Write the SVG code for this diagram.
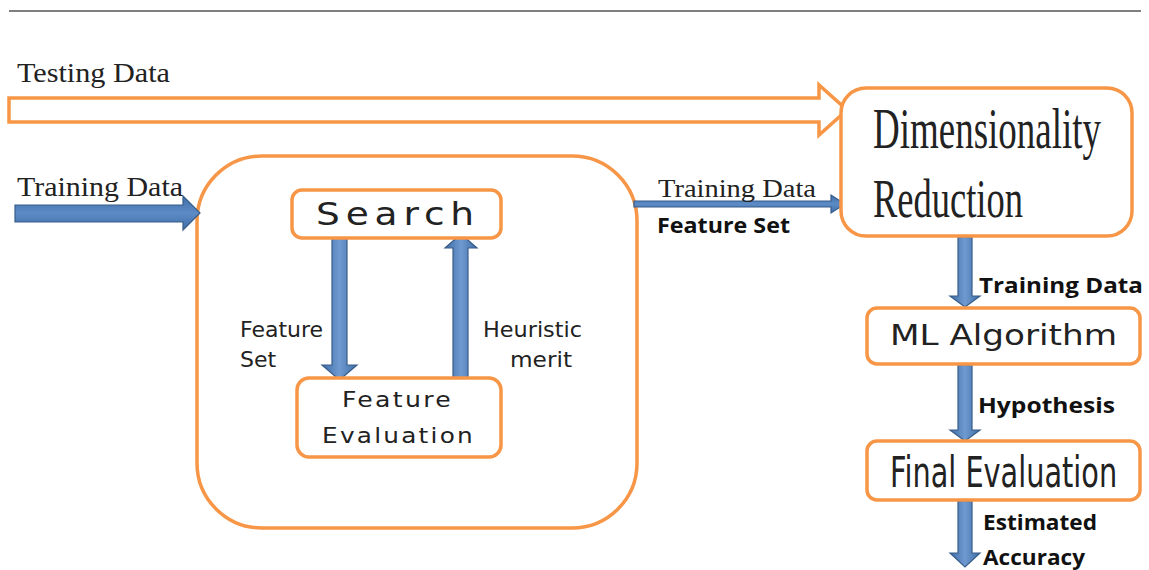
<svg xmlns="http://www.w3.org/2000/svg" width="1149" height="570" viewBox="0 0 1149 570">
  <defs>
    <!-- shaded fill for vertical and horizontal block arrows -->
    <linearGradient id="shadeV" x1="0" y1="0" x2="1" y2="0">
      <stop offset="0" stop-color="#3F6DA6"/>
      <stop offset="0.5" stop-color="#6E9AD0"/>
      <stop offset="1" stop-color="#3F6DA6"/>
    </linearGradient>
    <linearGradient id="shadeH" x1="0" y1="0" x2="0" y2="1">
      <stop offset="0" stop-color="#3F6DA6"/>
      <stop offset="0.5" stop-color="#5D8BC6"/>
      <stop offset="1" stop-color="#3F6DA6"/>
    </linearGradient>
  </defs>
  <style>
    .box { fill: #ffffff; stroke: #F79646; stroke-width: 3.5; }
    .bv { fill: url(#shadeV); stroke: #385D8A; stroke-width: 1.2; }
    .bh { fill: url(#shadeH); stroke: #385D8A; stroke-width: 1.2; }
    .serif { font-family: "Liberation Serif", "Times New Roman", serif; fill: #222; }
    .sans { font-family: "DejaVu Sans", Verdana, sans-serif; fill: #222; }
    .bold { font-family: "Open Sans", "DejaVu Sans", sans-serif; font-weight: bold; fill: #111; font-size: 21px; }
  </style>

  <!-- header rule -->
  <line x1="9" y1="11" x2="1141" y2="11" stroke="#555" stroke-width="1.5"/>

  <!-- feature selection container -->
  <g id="feature-selection">
    <rect class="box" x="197" y="156" width="440" height="372" rx="65" ry="65"/>
  </g>

  <!-- connectors -->
  <g id="connectors">
    <!-- hollow testing-data arrow -->
    <path d="M9,98 H819 V85 L847,110 L819,135 V122 H9 Z" fill="#ffffff" stroke="#F79646" stroke-width="3.5" stroke-linejoin="miter"/>
    <!-- training data into feature selection -->
    <path class="bh" d="M15,205 H183 V196 L200,213 L183,230 V222 H15 Z"/>
    <!-- search -> feature evaluation -->
    <path class="bv" d="M332,236 H347 V365 H357 L339.5,380 L322,365 H332 Z"/>
    <!-- feature evaluation -> search -->
    <path class="bv" d="M453,378 V248 H445 L461,234 L477,248 H468 V378 Z"/>
    <!-- feature selection -> dimensionality reduction -->
    <path class="bh" d="M634,201 H831 V195 L845,204 L831,213 V207 H634 Z"/>
    <!-- dimensionality reduction -> ML algorithm -->
    <path class="bv" d="M958,237 H972 V296 H980 L965,307 L950,296 H958 Z"/>
    <!-- ML algorithm -> final evaluation -->
    <path class="bv" d="M958,365 H972 V430 H980 L965,441 L950,430 H958 Z"/>
    <!-- final evaluation -> output -->
    <path class="bv" d="M958,501 H972 V553 H980 L965,567 L950,553 H958 Z"/>
  </g>

  <!-- connector labels -->
  <text class="serif" x="17" y="82" font-size="27" textLength="153" lengthAdjust="spacingAndGlyphs">Testing Data</text>
  <text class="serif" x="17" y="196" font-size="27" textLength="166" lengthAdjust="spacingAndGlyphs">Training Data</text>
  <text class="serif" x="658" y="197" font-size="25" fill="#444" textLength="158" lengthAdjust="spacingAndGlyphs">Training Data</text>
  <text class="bold" x="657" y="233" textLength="133" lengthAdjust="spacingAndGlyphs">Feature Set</text>
  <text class="sans" x="240" y="337" font-size="22">Feature</text>
  <text class="sans" x="240" y="367" font-size="22">Set</text>
  <text class="sans" x="483" y="337" font-size="22" textLength="99" lengthAdjust="spacingAndGlyphs">Heuristic</text>
  <text class="sans" x="510" y="367" font-size="22" textLength="62" lengthAdjust="spacingAndGlyphs">merit</text>
  <text class="bold" x="979" y="293" textLength="164" lengthAdjust="spacingAndGlyphs">Training Data</text>
  <text class="bold" x="978" y="413" textLength="137" lengthAdjust="spacingAndGlyphs">Hypothesis</text>
  <text class="bold" x="983" y="530" textLength="114" lengthAdjust="spacingAndGlyphs">Estimated</text>
  <text class="bold" x="983" y="565" textLength="102" lengthAdjust="spacingAndGlyphs">Accuracy</text>

  <g id="search">
    <rect class="box" x="292" y="190" width="209" height="48" rx="10" ry="10"/>
    <text class="sans" x="316" y="225" font-size="32" letter-spacing="5" textLength="164" lengthAdjust="spacingAndGlyphs">Search</text>
  </g>

  <g id="feature-evaluation">
    <rect class="box" x="297" y="378" width="204" height="79" rx="12" ry="12"/>
    <text class="sans" x="342" y="407" font-size="22" letter-spacing="2" textLength="111" lengthAdjust="spacingAndGlyphs">Feature</text>
    <text class="sans" x="322" y="443" font-size="22" letter-spacing="2" textLength="153" lengthAdjust="spacingAndGlyphs">Evaluation</text>
  </g>

  <!-- condensed titles are drawn at full size and squeezed horizontally -->
  <g id="dimensionality-reduction">
    <rect class="box" x="841" y="88" width="291" height="148" rx="25" ry="25"/>
    <text class="serif" font-size="57" transform="translate(873,148) scale(0.649,1)">Dimensionality</text>
    <text class="serif" font-size="54" transform="translate(873,217) scale(0.676,1)">Reduction</text>
  </g>

  <g id="ml-algorithm">
    <rect class="box" x="867" y="308" width="273" height="56" rx="10" ry="10"/>
    <text class="sans" x="890" y="345" font-size="28" textLength="227" lengthAdjust="spacingAndGlyphs">ML Algorithm</text>
  </g>

  <g id="final-evaluation">
    <rect class="box" x="867" y="441" width="273" height="59" rx="10" ry="10"/>
    <text class="sans" font-size="42" transform="translate(890,487) scale(0.685,1)">Final Evaluation</text>
  </g>
</svg>
